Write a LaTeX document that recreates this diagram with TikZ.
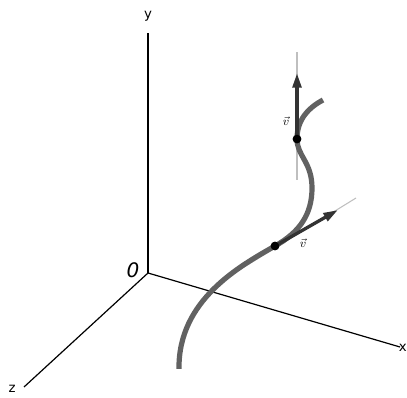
\documentclass[tikz,border=0pt]{standalone}
\usepackage{fontspec}
\setmainfont{DejaVu Sans}
\usetikzlibrary{arrows.meta}

\begin{document}
\begin{tikzpicture}[x=0.75pt, y=-0.75pt, >={Triangle[length=11pt,width=6.5pt]}]
        \tikzset{axisline/.style={draw=black, line width=0.9pt}, axislabel/.style={font=\fontsize{10}{11}\selectfont, inner sep=1pt}, tangentline/.style={draw=black!25, line width=0.8pt}, pathcurve/.style={draw=black!62, line width=3.9pt}, velocity/.style={->, draw=black!80, fill=black!80, line width=2.5pt}, curvepoint/.style={circle, fill=black, inner sep=0pt, minimum size=6.4pt}, veclabel/.style={font=\small, inner sep=0pt}}
        \useasboundingbox (0,0) rectangle (407,398);
        \coordinate (o) at (148,273);
        \coordinate (xend) at (400,347);
        \coordinate (yend) at (148,33);
        \coordinate (zend) at (24,387);
        \draw[axisline] (o) -- (xend);
        \draw[axisline] (o) -- (yend);
        \draw[axisline] (o) -- (zend);
        \node[axislabel, anchor=east, inner sep=0pt] (xlab) at (407,348) {x};
        \node[axislabel] (ylab) at (148,16) {y};
        \node[axislabel] (zlab) at (12,389) {z};
        \node[font=\fontsize{15}{16}\selectfont\itshape, inner sep=0pt] (olab) at (133,270) {0};
        % tangent lines
        \coordinate (ta1) at (228,277);
        \coordinate (ta2) at (356,198);
        \coordinate (tb1) at (297,180);
        \coordinate (tb2) at (297,52);
        \draw[tangentline] (ta1) -- (ta2);
        \draw[tangentline] (tb1) -- (tb2);
        % the curve
        \draw[pathcurve] (179,369) .. controls (178,300) and (240,266) .. (275,246)
            .. controls (300,232) and (312,214) .. (312,188)
            .. controls (312,162) and (297,156) .. (297,139)
            .. controls (297,120) and (308,108) .. (323,100);
        \node[curvepoint] (p1) at (275,246) {};
        \node[curvepoint] (p2) at (297,139) {};
        \coordinate (v1) at (338,210);
        \coordinate (v2) at (297,73);
        \draw[velocity] (p1.center) -- (v1);
        \draw[velocity] (p2.center) -- (v2);
        \node[curvepoint] at (p1) {};
        \node[curvepoint] at (p2) {};
        \node[veclabel] (v1lab) at (303,243) {$\vec{v}$};
        \node[veclabel] (v2lab) at (286,121) {$\vec{v}$};
    \end{tikzpicture}
\end{document}
